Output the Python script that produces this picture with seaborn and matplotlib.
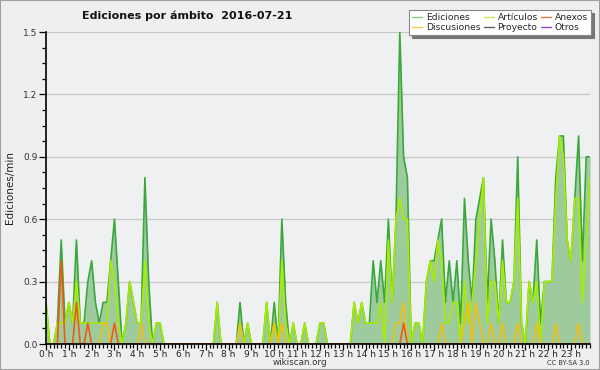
import numpy as np
import pandas as pd
import matplotlib
matplotlib.use("Agg")
import matplotlib.pyplot as plt
import seaborn as sns
from matplotlib.lines import Line2D
from matplotlib.patches import Rectangle
from matplotlib.ticker import MultipleLocator, FixedLocator, FormatStrFormatter

# 10-minute bins, values in edits per minute
ediciones = [
    0.2, 0, 0, 0.1, 0.5, 0.1, 0.2, 0.1, 0.5, 0.1, 0.1, 0.3, 0.4, 0.2, 0.1, 0.2, 0.2, 0.4, 0.6, 0.3, 0, 0.1, 0.3, 0.2,
    0.1, 0.1, 0.8, 0.3, 0, 0.1, 0.1, 0, 0, 0, 0, 0, 0, 0, 0, 0, 0, 0, 0, 0, 0, 0.2, 0, 0,
    0, 0, 0, 0.2, 0, 0.1, 0, 0, 0, 0, 0.2, 0, 0.2, 0, 0.6, 0.2, 0, 0.1, 0, 0, 0.1, 0, 0, 0,
    0.1, 0.1, 0, 0, 0, 0, 0, 0, 0, 0.2, 0.1, 0.2, 0.1, 0.1, 0.4, 0.2, 0.4, 0.2, 0.6, 0.2, 0.6, 1.5, 0.9, 0.8,
    0, 0.1, 0.1, 0, 0.3, 0.4, 0.4, 0.5, 0.6, 0.2, 0.4, 0.2, 0.4, 0.1, 0.7, 0.4, 0.2, 0.6, 0.7, 0.8, 0.2, 0.6, 0.4, 0.1,
    0.5, 0.2, 0.2, 0.3, 0.9, 0.1, 0, 0.3, 0.2, 0.5, 0.1, 0.3, 0.3, 0.3, 0.8, 1.0, 1.0, 0.5, 0.4, 0.7, 1.0, 0.4, 0.9, 0.9,
]
articulos = [
    0.2, 0, 0, 0.1, 0.1, 0.1, 0.2, 0.1, 0.3, 0.1, 0.1, 0.1, 0.1, 0.1, 0.1, 0.1, 0.1, 0.4, 0.3, 0.1, 0, 0.1, 0.3, 0.2,
    0.1, 0.1, 0.4, 0.1, 0, 0.1, 0.1, 0, 0, 0, 0, 0, 0, 0, 0, 0, 0, 0, 0, 0, 0, 0.2, 0, 0,
    0, 0, 0, 0.1, 0, 0.1, 0, 0, 0, 0, 0.2, 0, 0.1, 0, 0.4, 0.1, 0, 0.1, 0, 0, 0.1, 0, 0, 0,
    0.1, 0.1, 0, 0, 0, 0, 0, 0, 0, 0.2, 0.1, 0.2, 0.1, 0.1, 0.1, 0.1, 0.2, 0, 0.5, 0.2, 0.6, 0.7, 0.6, 0.6,
    0, 0.1, 0.1, 0, 0.3, 0.4, 0.3, 0.5, 0.4, 0.1, 0.1, 0.2, 0.2, 0, 0.3, 0.1, 0.2, 0.4, 0.6, 0.8, 0.1, 0.3, 0.3, 0.1,
    0.4, 0.2, 0.2, 0.3, 0.7, 0.1, 0, 0.3, 0.2, 0.3, 0, 0.3, 0.3, 0.3, 0.7, 1.0, 0.9, 0.5, 0.4, 0.7, 0.7, 0.2, 0.5, 0.8,
]
discusiones = [0.0] * 144
for i, v in {15: 0.1, 16: 0.1, 25: 0.1, 51: 0.1, 60: 0.1, 62: 0.1, 92: 0.1, 93: 0.1, 94: 0.2,
             104: 0.1, 110: 0.1, 111: 0.2, 113: 0.2, 114: 0.1, 117: 0.1, 120: 0.1, 124: 0.1,
             129: 0.1, 134: 0.1, 140: 0.1}.items():
    discusiones[i] = v
anexos = [0.0] * 144
for i, v in {4: 0.4, 8: 0.2, 11: 0.1, 18: 0.1, 94: 0.1}.items():
    anexos[i] = v
proyecto = [0.0] * 144
otros = [0.0] * 144

hour_labels = [f"{h} h" for h in range(24)]
series_names = ["Ediciones", "Discusiones", "Artículos", "Proyecto", "Anexos", "Otros"]

hours = np.arange(144) / 6.0
df = pd.DataFrame({"hora": hours, "Ediciones": ediciones, "Artículos": articulos,
                   "Discusiones": discusiones, "Anexos": anexos,
                   "Proyecto": proyecto, "Otros": otros})

line_colors = {"Ediciones": "#3aa83a", "Artículos": "#a8ec00", "Discusiones": "#f0c010",
               "Anexos": "#f05a14", "Proyecto": "#555555", "Otros": "#9a3cf0"}
legend_colors = {"Ediciones": "#80cc80", "Artículos": "#c8ec50", "Discusiones": "#f8cc40",
                 "Anexos": "#f07848", "Proyecto": "#606060", "Otros": "#9444ee"}

sns.set_theme(style="white")
plt.rcParams["font.family"] = ["DejaVu Sans"]

fig = plt.figure(figsize=(6.0, 3.7), dpi=100, facecolor="#efefef")
ax = fig.add_axes([46/600, 26/370, 544/600, 312/370])
ax.set_facecolor("#eef0f2")

ax.fill_between(df["hora"], 0, df["Ediciones"], color="#9ecb9e", lw=0, zorder=1)
for name in ["Ediciones", "Artículos", "Discusiones", "Anexos"]:
    sns.lineplot(data=df, x="hora", y=name, ax=ax, color=line_colors[name], lw=1.2,
                 zorder=3, legend=False)

ax.set_xlim(0, 143/6)
ax.set_ylim(0, 1.5)
ax.yaxis.set_major_locator(MultipleLocator(0.3))
ax.yaxis.set_minor_locator(MultipleLocator(0.075))
ax.xaxis.set_major_locator(FixedLocator(list(range(24))))
ax.xaxis.set_minor_locator(MultipleLocator(1/6))
ax.set_xticklabels(hour_labels)
ax.yaxis.set_major_formatter(FormatStrFormatter("%.1f"))
ax.grid(axis="y", color="#c8c8c8", lw=0.9, zorder=0)
ax.set_axisbelow(True)
ax.tick_params(axis="y", which="major", length=5, width=0.9, color="black", labelsize=6.5,
               labelcolor="#333333", pad=1, left=True, direction="out")
ax.tick_params(axis="y", which="minor", length=3, width=0.9, color="black", left=True, direction="out")
ax.tick_params(axis="x", which="major", length=4, width=0.9, color="black", labelsize=6.5,
               labelcolor="#222222", pad=0, bottom=True, direction="out")
ax.tick_params(axis="x", which="minor", length=3, width=0.9, color="black", bottom=True, direction="out")

for s in ["top", "right"]:
    ax.spines[s].set_visible(False)
for s in ["left", "bottom"]:
    ax.spines[s].set_color("black")
    ax.spines[s].set_linewidth(1.2)
    ax.spines[s].set_zorder(5)
ax.set_xlabel("")
ax.set_ylabel("Ediciones/min", fontsize=7.5, color="#222222", labelpad=6)

fig.text(0.312, 0.958, "Ediciones por ámbito  2016-07-21", fontsize=8, fontweight="bold",
         ha="center", va="center", color="#111111")
fig.text(0.5, 0.020, "wikiscan.org", fontsize=6.3, ha="center", va="center", color="#333333")
fig.text(0.983, 0.020, "CC BY-SA 3.0", fontsize=4.8, ha="right", va="center", color="#333333")

handles = [Line2D([0], [0], color=legend_colors[n], lw=1.0) for n in series_names]
leg = fig.legend(handles, series_names, loc="upper right", bbox_to_anchor=(0.985, 0.973),
                 ncol=3, fontsize=6.6, frameon=True, fancybox=False,
                 shadow={"color": "#777777", "alpha": 1},
                 handlelength=1.1, handletextpad=0.4, columnspacing=0.35, labelspacing=0.1,
                 borderpad=0.35, borderaxespad=0)
leg.get_frame().set_facecolor("white")
leg.get_frame().set_edgecolor("#888888")
leg.get_frame().set_linewidth(0.8)

fig.patches.append(Rectangle((0, 0), 1, 1, transform=fig.transFigure, fill=False,
                             edgecolor="#a0a0a0", lw=1.5))

fig.savefig("out.png", dpi=100, facecolor=fig.get_facecolor())
